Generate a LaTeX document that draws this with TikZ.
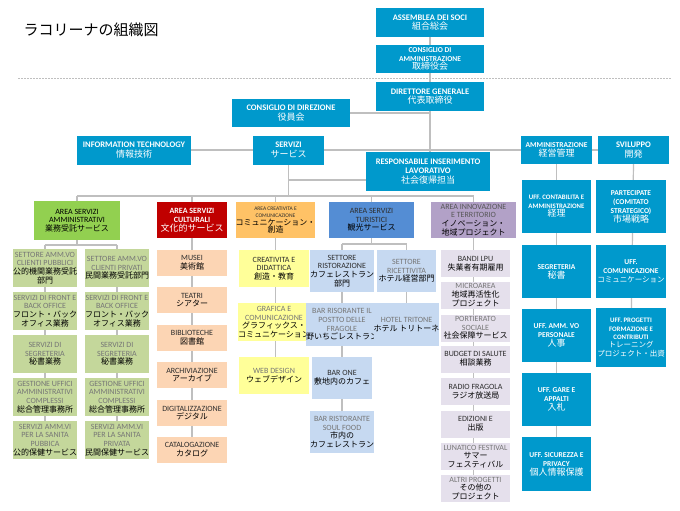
\documentclass[tikz,border=0pt]{standalone}
\usepackage{fontspec}
\setmainfont{Carlito}
\newfontfamily\jp{Noto Sans CJK JP}
\usepackage{xcolor}
\definecolor{lcblue}{RGB}{0,153,204}
\definecolor{lcgreen}{RGB}{146,208,80}
\definecolor{lcgreen4}{RGB}{196,215,155}
\definecolor{lcred}{RGB}{192,0,0}
\definecolor{lcpeach}{RGB}{252,213,180}
\definecolor{lcorange}{RGB}{255,194,102}
\definecolor{lcyellow}{RGB}{255,255,153}
\definecolor{lcsky}{RGB}{84,141,212}
\definecolor{lcsky4}{RGB}{198,217,241}
\definecolor{lcviolet}{RGB}{178,161,199}
\definecolor{lcviolet4}{RGB}{229,224,236}
\definecolor{txtgray}{RGB}{118,118,118}
\definecolor{txtdark}{RGB}{45,45,45}
\definecolor{linegray}{RGB}{191,191,191}
\usepackage{tikz}
\usetikzlibrary{backgrounds}
\newcommand{\ja}{\jp\mdseries\fontsize{9}{10}\selectfont}
\newcommand{\jas}{\jp\mdseries\fontsize{7.5}{8.5}\selectfont}
\newcommand{\jb}{\jp\mdseries\fontsize{8}{9}\selectfont\color{black}}

\begin{document}
\begin{tikzpicture}[x=1pt, y=-1pt,
  box/.style={inner sep=0pt, outer sep=0pt, align=center},
  sz/.style 2 args={minimum width=#1, minimum height=#2},
  capo/.style={box, fill=lcblue, text=white, font=\bfseries\fontsize{8.5}{9.5}\selectfont},
  uff/.style={box, fill=lcblue, text=white, font=\bfseries\fontsize{7.5}{9}\selectfont},
  sub/.style={box, text=txtdark, font=\fontsize{8}{8.7}\selectfont},
  grigio/.style={text=txtgray},
  link/.style={draw=linegray, line width=1.2pt}
]
  \useasboundingbox (0,0) rectangle (680,511);

  % Title and separator
  \node[anchor=west, font=\jp\fontsize{15}{16}\selectfont] (titolo) at (20,30) {ラコリーナの組織図};
  \draw[linegray, line width=0.8pt, dash pattern=on 1.5pt off 1.5pt] (18,78) -- (672,78);

  % Top management
  \node[capo, sz={108}{29}] (soci) at (430,22.5) {ASSEMBLEA DEI SOCI\\\ja 組合総会};
  \node[capo, sz={108}{28}, font=\bfseries\fontsize{7.5}{8.5}\selectfont] (cda) at (430,59) {CONSIGLIO DI\\AMMINISTRAZIONE\\\ja 取締役会};
  \node[capo, sz={108}{29}] (dg)   at (430,96.5) {DIRETTORE GENERALE\\\ja 代表取締役};
  \node[capo, sz={118}{28}] (cdd)  at (291,113) {CONSIGLIO DI DIREZIONE\\\ja 役員会};
  \node[capo, sz={114}{29}] (it)   at (134,150) {INFORMATION TECHNOLOGY\\\ja 情報技術};
  \node[capo, sz={71}{29}]  (serv) at (288.5,150) {SERVIZI\\\ja サービス};
  \node[capo, sz={124}{39}] (resp) at (428,171.5) {RESPONSABILE INSERIMENTO\\LAVORATIVO\\\ja 社会復帰担当};
  \node[capo, sz={71}{28}, font=\bfseries\fontsize{7.5}{9}\selectfont] (amm) at (556.5,150) {AMMINISTRAZIONE\\\ja 経営管理};
  \node[capo, sz={71}{28}]  (svil) at (633.5,150) {SVILUPPO\\\ja 開発};

  % Areas
  \node[sub, fill=lcgreen, sz={86}{39}, text=black] (aream) at (77,220.5)
       {AREA SERVIZI\\AMMINISTRATIVI\\\jb 業務受託サービス};
  \node[sub, fill=lcred, sz={70}{36}, text=white, font=\bfseries\fontsize{8}{9}\selectfont] (areac) at (192,220)
       {AREA SERVIZI\\CULTURALI\\\ja 文化的サービス};
  \node[sub, fill=lcorange, sz={75}{36}, font=\fontsize{5.5}{7.5}\selectfont] (areacr) at (275.5,220)
       {AREA CREATIVITA E\\COMUNICAZIONE\\\jb コミュニケーション・\\\jb 創造};
  \node[sub, fill=lcsky, sz={85}{36}] (areat) at (371.5,220)
       {AREA SERVIZI\\TURISTICI\\\jb 観光サービス};
  \node[sub, fill=lcviolet, sz={85}{36}, text=txtdark!80] (areai) at (473.5,220)
       {AREA INNOVAZIONE\\E TERRITORIO\\\jb イノベーション・\\\jb 地域プロジェクト};

  % Area servizi amministrativi
  \node[sub, grigio, fill=lcgreen4, sz={64}{38}] (m1l) at (45,268) {SETTORE AMM.VO\\CLIENTI PUBBLICI\\\jb 公的機関業務受託\\\jb 部門};
  \node[sub, grigio, fill=lcgreen4, sz={64}{38}] (m2l) at (45,311) {SERVIZI DI FRONT E\\BACK OFFICE\\\jb フロント・バック\\\jb オフィス業務};
  \node[sub, grigio, fill=lcgreen4, sz={64}{38}] (m3l) at (45,354) {SERVIZI DI\\SEGRETERIA\\\jb 秘書業務};
  \node[sub, grigio, fill=lcgreen4, sz={64}{38}] (m4l) at (45,397) {GESTIONE UFFICI\\AMMINISTRATIVI\\COMPLESSI\\\jb 総合管理事務所};
  \node[sub, grigio, fill=lcgreen4, sz={64}{38}] (m5l) at (45,440) {SERVIZI AMM.VI\\PER LA SANITA\\PUBBICA\\\jb 公的保健サービス};
  \node[sub, grigio, fill=lcgreen4, sz={64}{38}] (m1r) at (117,268) {SETTORE AMM.VO\\CLIENTI PRIVATI\\\jb 民間業務受託部門};
  \node[sub, grigio, fill=lcgreen4, sz={64}{38}] (m2r) at (117,311) {SERVIZI DI FRONT E\\BACK OFFICE\\\jb フロント・バック\\\jb オフィス業務};
  \node[sub, grigio, fill=lcgreen4, sz={64}{38}] (m3r) at (117,354) {SERVIZI DI\\SEGRETERIA\\\jb 秘書業務};
  \node[sub, grigio, fill=lcgreen4, sz={64}{38}] (m4r) at (117,397) {GESTIONE UFFICI\\AMMINISTRATIVI\\COMPLESSI\\\jb 総合管理事務所};
  \node[sub, grigio, fill=lcgreen4, sz={64}{38}] (m5r) at (117,440) {SERVIZI AMM.VI\\PER LA SANITA\\PRIVATA\\\jb 民間保健サービス};

  % Area servizi culturali
  \node[sub, fill=lcpeach, sz={70}{26}] (c1) at (192,263) {MUSEI\\\jb 美術館};
  \node[sub, fill=lcpeach, sz={70}{26}] (c2) at (192,300) {TEATRI\\\jb シアター};
  \node[sub, fill=lcpeach, sz={70}{26}] (c3) at (192,338) {BIBLIOTECHE\\\jb 図書館};
  \node[sub, fill=lcpeach, sz={70}{26}] (c4) at (192,375) {ARCHIVIAZIONE\\\jb アーカイブ};
  \node[sub, fill=lcpeach, sz={70}{26}] (c5) at (192,413) {DIGITALIZZAZIONE\\\jb デジタル};
  \node[sub, fill=lcpeach, sz={70}{26}] (c6) at (192,450) {CATALOGAZIONE\\\jb カタログ};

  % Area creativita e comunicazione
  \node[sub, fill=lcyellow, sz={70}{37}] (cr1) at (274,268.5) {CREATIVITA E\\DIDATTICA\\\jb 創造・教育};
  \node[sub, grigio, fill=lcyellow, sz={70}{38}] (cr2) at (274,322) {GRAFICA E\\COMUNICAZIONE\\\jb グラフィックス・\\\jb コミュニケーション};
  \node[sub, grigio, fill=lcyellow, sz={70}{37}] (cr3) at (274,375.5) {WEB DESIGN\\\jb ウェブデザイン};

  % Area servizi turistici
  \node[sub, fill=lcsky4, sz={60}{42}] (t1l) at (342,271) {SETTORE\\RISTORAZIONE\\\jb カフェレストラン\\\jb 部門};
  \node[sub, grigio, fill=lcsky4, sz={60}{43}] (t2l) at (342,324.5) {BAR RISORANTE IL\\POSTTO DELLE\\FRAGOLE\\\jb 野いちごレストラン};
  \node[sub, fill=lcsky4, sz={60}{42}] (t3l) at (342,378) {BAR ONE\\\jb 敷地内のカフェ};
  \node[sub, grigio, fill=lcsky4, sz={60}{42}] (t4l) at (342,432) {BAR RISTORANTE\\SOUL FOOD\\\jb 市内の\\\jb カフェレストラン};
  \node[sub, grigio, fill=lcsky4, sz={59}{42}] (t1r) at (406.5,271) {SETTORE\\RICETTIVITA\\\jb ホテル経営部門};
  \node[sub, grigio, fill=lcsky4, sz={59}{43}] (t2r) at (406.5,324.5) {HOTEL TRITONE\\\jb ホテル トリトーネ};

  % Area innovazione e territorio
  \node[sub, fill=lcviolet4, sz={69}{27}] (i1) at (475.5,263.5) {BANDI LPU\\\jb 失業者有期雇用};
  \node[sub, grigio, fill=lcviolet4, sz={69}{27}] (i2) at (475.5,295) {MICROAREA\\\jb 地域再活性化\\\jb プロジェクト};
  \node[sub, grigio, fill=lcviolet4, sz={69}{27}] (i3) at (475.5,328) {PORTIERATO\\SOCIALE\\\jb 社会保障サービス};
  \node[sub, fill=lcviolet4, sz={69}{27}] (i4) at (475.5,359) {BUDGET DI SALUTE\\\jb 相談業務};
  \node[sub, fill=lcviolet4, sz={69}{27}] (i5) at (475.5,391.5) {RADIO FRAGOLA\\\jb ラジオ放送局};
  \node[sub, fill=lcviolet4, sz={69}{27}] (i6) at (475.5,424) {EDIZIONI E\\\jb 出版};
  \node[sub, grigio, fill=lcviolet4, sz={69}{27}] (i7) at (475.5,456.5) {LUNATICO FESTIVAL\\\jb サマー\\\jb フェスティバル};
  \node[sub, grigio, fill=lcviolet4, sz={69}{27}] (i8) at (475.5,488.5) {ALTRI PROGETTI\\\jb その他の\\\jb プロジェクト};

  % Amministrazione offices
  \node[uff, sz={69}{53}, font=\bfseries\fontsize{6.8}{8.5}\selectfont] (a1) at (556.5,206.5) {UFF. CONTABILITA E\\AMMINISTRAZIONE\\\ja 経理};
  \node[uff, sz={69}{53}] (a2) at (556.5,271.5) {SEGRETERIA\\\ja 秘書};
  \node[uff, sz={69}{53}] (a3) at (556.5,335.5) {UFF. AMM. VO\\PERSONALE\\\ja 人事};
  \node[uff, sz={69}{53}] (a4) at (556.5,399.5) {UFF. GARE E\\APPALTI\\\ja 入札};
  \node[uff, sz={69}{54}] (a5) at (556.5,464) {UFF. SICUREZZA E\\PRIVACY\\\ja 個人情報保護};

  % Sviluppo offices
  \node[uff, sz={70}{53}] (s1) at (631,206.5) {PARTECIPATE\\(COMITATO\\STRATEGICO)\\\ja 市場戦略};
  \node[uff, sz={70}{53}] (s2) at (631,271.5) {UFF.\\COMUNICAZIONE\\\jas コミュニケーション};
  \node[uff, sz={70}{59}, font=\bfseries\fontsize{6.8}{8.3}\selectfont] (s3) at (631,337.5) {UFF. PROGETTI\\FORMAZIONE E\\CONTRIBUTI\\\jas トレーニング\\\jas プロジェクト・出資};

  % Connectors
  \begin{scope}[on background layer]
    \fill[white] (0,0) rectangle (680,511);
    \draw[link] (soci.south) -- (cda.north);
    \draw[link] (cda.south) -- (dg.north);
    \draw[link] (dg.south) -- (dg.south |- resp.north);
    \draw[link] (cdd.east) -- (cdd.east -| dg.south);
    \draw[link] (it.east) -- (serv.west);
    \draw[link] (serv.east) -- (amm.west);
    \draw[link] (amm.east) -- (svil.west);
    \coordinate (bus) at (0,196);
    \coordinate (rl) at (0,180);
    \draw[link] (serv.south) -- (serv.south |- bus);
    \draw[link] (serv.south |- rl) -- (resp.west |- rl);
    \draw[link] (aream.north |- bus) -- (areai.north |- bus);
    \foreach \area in {aream,areac,areacr,areat,areai}
      \draw[link] (\area.north) -- (\area.north |- bus);
    % green sub-columns
    \coordinate (gb) at (0,245);
    \draw[link] (aream.south) -- (aream.south |- gb);
    \draw[link] (m1l.north |- gb) -- (m1r.north |- gb);
    \draw[link] (m1l.north |- gb) -- (m5l.center);
    \draw[link] (m1r.north |- gb) -- (m5r.center);
    \draw[link] (areac.south) -- (c6.center);
    \draw[link] (areacr.south) -- (areacr.south |- cr3.center);
    % turistici sub-columns
    \coordinate (tb) at (0,244);
    \draw[link] (areat.south) -- (areat.south |- tb);
    \draw[link] (t1l.north |- tb) -- (t1r.north |- tb);
    \draw[link] (t1l.north |- tb) -- (t4l.center);
    \draw[link] (t1r.north |- tb) -- (t2r.center);
    \draw[link] (areai.south) -- (areai.south |- i8.center);
    \draw[link] (amm.south) -- (a5.center);
    \draw[link] (svil.south) -- (s3.center);
  \end{scope}
\end{tikzpicture}
\end{document}
